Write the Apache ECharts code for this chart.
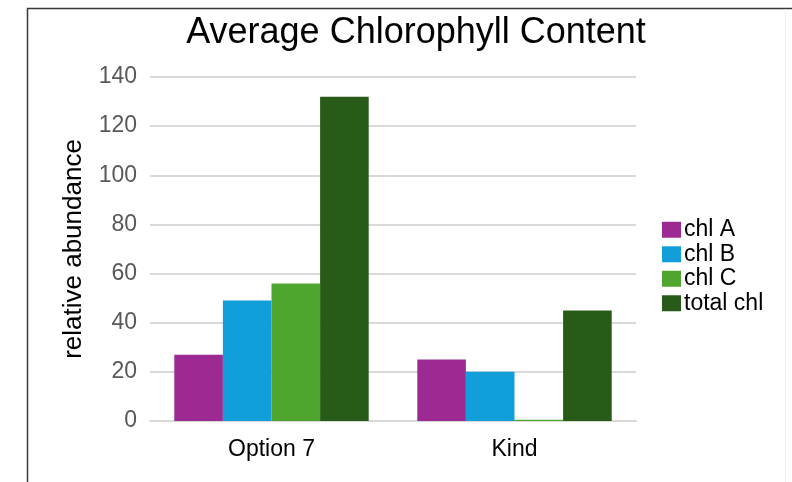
<!DOCTYPE html>
<html>
<head>
<meta charset="utf-8">
<script src="https://cdn.jsdelivr.net/npm/echarts@6/dist/echarts.min.js"></script>
<style>html,body{margin:0;padding:0;background:#fff;}#c{width:792px;height:482px;}</style>
</head>
<body>
<div id="c"></div>
<script>
const categories = ['Option 7', 'Kind'];
const seriesNames = ['chl A', 'chl B', 'chl C', 'total chl'];
const chlA = [27, 25];
const chlB = [49, 20];
const chlC = [56, 0.5];
const totalChl = [132, 45];
const yTicks = [0, 20, 40, 60, 80, 100, 120, 140];
const colors = ['#9C2A92', '#129ED8', '#4EA62F', '#285A18'];

const values = [chlA, chlB, chlC, totalChl];
const font = 'Arial, "Liberation Sans", sans-serif';
const chart = echarts.init(document.getElementById('c'), null, {renderer: 'canvas'});
chart.setOption({
  animation: false,
  backgroundColor: '#fff',
  color: colors,
  title: {
    text: 'Average Chlorophyll Content',
    left: 411, top: 10, textAlign: 'center',
    textStyle: {fontFamily: font, fontSize: 36, fontWeight: 'normal', color: '#000'}
  },
  legend: {
    orient: 'vertical', left: 657, top: 213,
    itemWidth: 19, itemHeight: 16, itemGap: 1,
    icon: 'rect',
    textStyle: {fontFamily: font, fontSize: 23, lineHeight: 23.5, color: '#000', padding: [0,0,0,-2]},
    data: seriesNames
  },
  grid: {left: 150, right: 156, top: 77, bottom: 61, containLabel: false},
  xAxis: {
    type: 'category', data: categories,
    axisLine: {lineStyle: {color: '#d9d9d9', width: 2}},
    axisTick: {show: false},
    axisLabel: {fontFamily: font, fontSize: 23, color: '#000', margin: 17}
  },
  yAxis: {
    type: 'value', min: yTicks[0], max: yTicks[yTicks.length - 1], interval: 20,
    name: 'relative abundance', nameLocation: 'middle', nameGap: 63,
    nameTextStyle: {fontFamily: font, fontSize: 26, color: '#000'},
    axisLine: {show: false}, axisTick: {show: false},
    axisLabel: {fontFamily: font, fontSize: 23, color: '#595959', margin: 13},
    splitLine: {lineStyle: {color: '#d9d9d9', width: 2}}
  },
  series: seriesNames.map((n, i) => ({
    name: n, type: 'bar', data: values[i],
    barGap: '0%', barCategoryGap: '20%'
  })),
  graphic: [
    {type: 'polyline', shape: {points: [[27.5, 482], [27.5, 8.5], [792, 8.5]]}, style: {stroke: '#3a3a3a', fill: null, lineWidth: 1.5}, silent: true},
    {type: 'line', shape: {x1: 785.5, y1: 9, x2: 785.5, y2: 482}, style: {stroke: '#f0f0f0', lineWidth: 1}, silent: true}
  ]
});
</script>
</body>
</html>
